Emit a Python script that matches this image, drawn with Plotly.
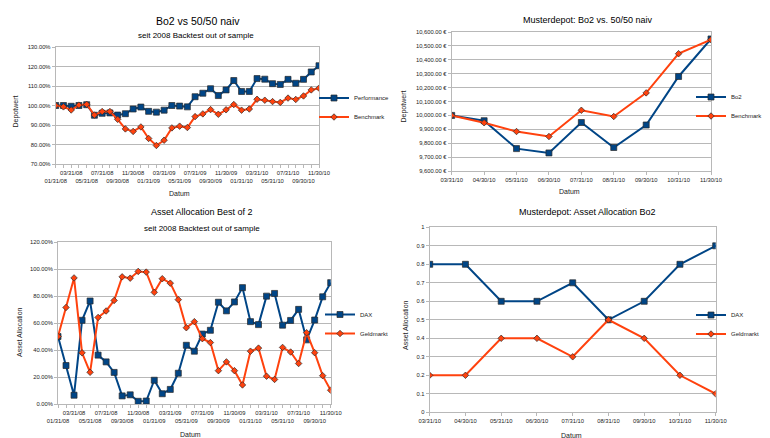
import plotly.graph_objects as go

W, H = 770, 438

# ---------------- data ----------------
months_long = ["01/31/08", "02/29/08", "03/31/08", "04/30/08", "05/31/08", "06/30/08",
               "07/31/08", "08/31/08", "09/30/08", "10/31/08", "11/30/08", "12/31/08",
               "01/31/09", "02/28/09", "03/31/09", "04/30/09", "05/31/09", "06/30/09",
               "07/31/09", "08/31/09", "09/30/09", "10/31/09", "11/30/09", "12/31/09",
               "01/31/10", "02/28/10", "03/31/10", "04/30/10", "05/31/10", "06/30/10",
               "07/31/10", "08/31/10", "09/30/10", "10/31/10", "11/30/10"]

performance = [100.0, 100.0, 99.6, 100.0, 100.4, 95.0, 96.0, 96.2, 95.1, 95.8, 98.2, 99.2,
               97.0, 96.6, 97.6, 100.0, 99.7, 99.3, 104.5, 106.3, 108.6, 105.1, 108.0, 112.8,
               107.2, 107.2, 113.8, 113.5, 111.2, 110.8, 113.4, 111.4, 113.4, 117.2, 120.4]
benchmark = [100.0, 99.3, 97.7, 100.2, 100.6, 95.1, 96.9, 96.9, 92.9, 88.0, 86.7, 89.0,
             83.1, 79.5, 82.2, 88.5, 89.4, 88.7, 94.3, 95.7, 97.9, 95.5, 97.8, 100.5,
             97.6, 98.2, 103.2, 102.7, 102.0, 101.6, 103.8, 103.1, 104.9, 108.0, 108.9]

dax_alloc = [50.0, 28.5, 6.5, 62.0, 76.3, 36.2, 31.2, 23.4, 6.0, 6.8, 2.0, 2.2,
             17.6, 7.6, 10.8, 22.8, 43.5, 39.1, 51.8, 54.6, 75.4, 69.0, 75.6, 86.2,
             61.0, 58.8, 79.9, 81.9, 58.4, 61.9, 70.1, 47.5, 62.2, 79.4, 89.9]
geld_alloc = [50.0, 71.5, 93.4, 37.9, 23.5, 64.1, 68.9, 76.7, 94.2, 93.2, 98.2, 97.7,
              82.7, 92.8, 89.5, 77.3, 56.5, 61.0, 48.4, 45.5, 24.7, 31.2, 24.7, 14.1,
              39.1, 41.4, 20.6, 18.2, 41.9, 38.5, 30.0, 52.8, 38.0, 21.0, 10.2]

months_short = ["03/31/10", "04/30/10", "05/31/10", "06/30/10", "07/31/10",
                "08/31/10", "09/30/10", "10/31/10", "11/30/10"]
bo2_depot = [10000, 9962, 9761, 9730, 9949, 9769, 9931, 10280, 10550]
bench_depot = [10000, 9947, 9884, 9848, 10037, 9992, 10162, 10444, 10545]

dax_short = [0.8, 0.8, 0.6, 0.6, 0.7, 0.5, 0.6, 0.8, 0.9]
geld_short = [0.2, 0.2, 0.4, 0.4, 0.3, 0.5, 0.4, 0.2, 0.1]

# ---------------- styling ----------------
BLUE = "#004586"
ORANGE = "#ff420e"
FONT = "Liberation Sans"
GRID = "#b8b8b8"


def px_x(x):
    return x / W


def px_y(y):
    return 1 - y / H


# two-row tick labels for the long month axis
long_ticktext = []
for i, m in enumerate(months_long):
    if i % 4 == 2:
        long_ticktext.append(m)
    elif i % 4 == 0:
        long_ticktext.append("<br>" + m)
    else:
        long_ticktext.append("")

fig = go.Figure()


def line_trace(x, y, name, color, symbol, size, xa, ya, legend):
    return go.Scatter(
        x=x, y=y, name=name, mode="lines+markers",
        line=dict(color=color, width=2),
        marker=dict(symbol=symbol, size=size, color=color,
                    line=dict(color="#2a2a2a", width=0.7)),
        xaxis=xa, yaxis=ya, legend=legend,
    )


fig.add_trace(line_trace(months_long, performance, "Performance", BLUE, "square", 6, "x", "y", "legend"))
fig.add_trace(line_trace(months_long, benchmark, "Benchmark", ORANGE, "diamond", 5, "x", "y", "legend"))
fig.add_trace(line_trace(months_short, bo2_depot, "Bo2", BLUE, "square", 6, "x2", "y2", "legend2"))
fig.add_trace(line_trace(months_short, bench_depot, "Benchmark", ORANGE, "diamond", 5, "x2", "y2", "legend2"))
fig.add_trace(line_trace(months_long, dax_alloc, "DAX", BLUE, "square", 6, "x3", "y3", "legend3"))
fig.add_trace(line_trace(months_long, geld_alloc, "Geldmarkt", ORANGE, "diamond", 5, "x3", "y3", "legend3"))
fig.add_trace(line_trace(months_short, dax_short, "DAX", BLUE, "square", 6, "x4", "y4", "legend4"))
fig.add_trace(line_trace(months_short, geld_short, "Geldmarkt", ORANGE, "diamond", 5, "x4", "y4", "legend4"))

tickfont = dict(size=5.8, color="#222222", family=FONT)
base = dict(showline=True, linecolor=GRID, linewidth=1, mirror=True,
            ticks="outside", ticklen=3, tickcolor=GRID, tickfont=tickfont,
            zeroline=False, fixedrange=True, automargin=False)


def xaxis(domain, cats, ticktext, anchor):
    return dict(base, type="category", domain=domain, anchor=anchor,
                range=[0, len(cats) - 1], tickmode="array", tickvals=cats,
                ticktext=ticktext, showgrid=False, tickangle=0)


def yaxis(domain, rng, dtick, anchor, **kw):
    return dict(base, domain=domain, anchor=anchor, range=rng, dtick=dtick,
                showgrid=True, gridcolor=GRID, gridwidth=1, **kw)


# plot areas in pixels
c1 = dict(x0=47.7, x1=311.0, y0=39.0, y1=156.0)
c2 = dict(x0=443.7, x1=703.0, y0=24.0, y1=163.0)
c3 = dict(x0=50.0, x1=322.7, y0=234.0, y1=396.0)
c4 = dict(x0=421.7, x1=707.7, y0=219.3, y1=404.3)


def dom(c):
    return [px_x(c["x0"]), px_x(c["x1"])], [px_y(c["y1"]), px_y(c["y0"])]


d1x, d1y = dom(c1)
d2x, d2y = dom(c2)
d3x, d3y = dom(c3)
d4x, d4y = dom(c4)


def legend(x_px, y_px):
    return dict(x=px_x(x_px), y=px_y(y_px), xanchor="left", yanchor="middle",
                font=dict(size=6, color="#222222", family=FONT),
                bgcolor="rgba(0,0,0,0)", itemwidth=30, tracegroupgap=0,
                orientation="v")


def ann(text, x, y, size, angle=0, color="#000000"):
    return dict(text=text, x=px_x(x), y=px_y(y), xref="paper", yref="paper",
                showarrow=False, xanchor="center", yanchor="middle",
                textangle=angle, font=dict(size=size, color=color, family=FONT))


fig.update_layout(
    width=W, height=H,
    margin=dict(l=0, r=0, t=0, b=0, autoexpand=False),
    paper_bgcolor="white", plot_bgcolor="white",
    font=dict(family=FONT, color="#222222"),
    xaxis=xaxis(d1x, months_long, long_ticktext, "y"),
    yaxis=yaxis(d1y, [70, 130], 10, "x", tickformat=".2f", ticksuffix="%"),
    xaxis2=xaxis(d2x, months_short, months_short, "y2"),
    yaxis2=yaxis(d2y, [9600, 10600], 100, "x2", tickformat=",.2f", ticksuffix=" €"),
    xaxis3=xaxis(d3x, months_long, long_ticktext, "y3"),
    yaxis3=yaxis(d3y, [0, 120], 20, "x3", tickformat=".2f", ticksuffix="%"),
    xaxis4=xaxis(d4x, months_short, months_short, "y4"),
    yaxis4=yaxis(d4y, [0, 1], 0.1, "x4"),
    legend=legend(306, 99.5),
    legend2=legend(683, 98.5),
    legend3=legend(312, 316),
    legend4=legend(683, 316.5),
    annotations=[
        ann("Bo2 vs 50/50 naiv", 190, 13, 10.5),
        ann("seit 2008 Backtest out of sample", 188, 27, 8),
        ann("Musterdepot: Bo2 vs. 50/50 naiv", 579.7, 11.7, 9),
        ann("Asset Allocation Best of 2", 194, 204, 9),
        ann("seit 2008 Backtest out of sample", 194, 220, 8),
        ann("Musterdepot: Asset Allocation Bo2", 579.7, 204.3, 9),
        ann("Datum", 171, 185, 7, color="#222222"),
        ann("Datum", 561, 183.7, 7, color="#222222"),
        ann("Datum", 182.3, 426.7, 7, color="#222222"),
        ann("Datum", 563.8, 427.3, 7, color="#222222"),
        ann("Depotwert", 7.5, 104, 7, angle=-90, color="#222222"),
        ann("Depotwert", 395.5, 99, 7, angle=-90, color="#222222"),
        ann("Asset Allocation", 11, 324, 7, angle=-90, color="#222222"),
        ann("Asset Allocation", 397, 317, 7, angle=-90, color="#222222"),
    ],
)

fig.write_html("out.html")
